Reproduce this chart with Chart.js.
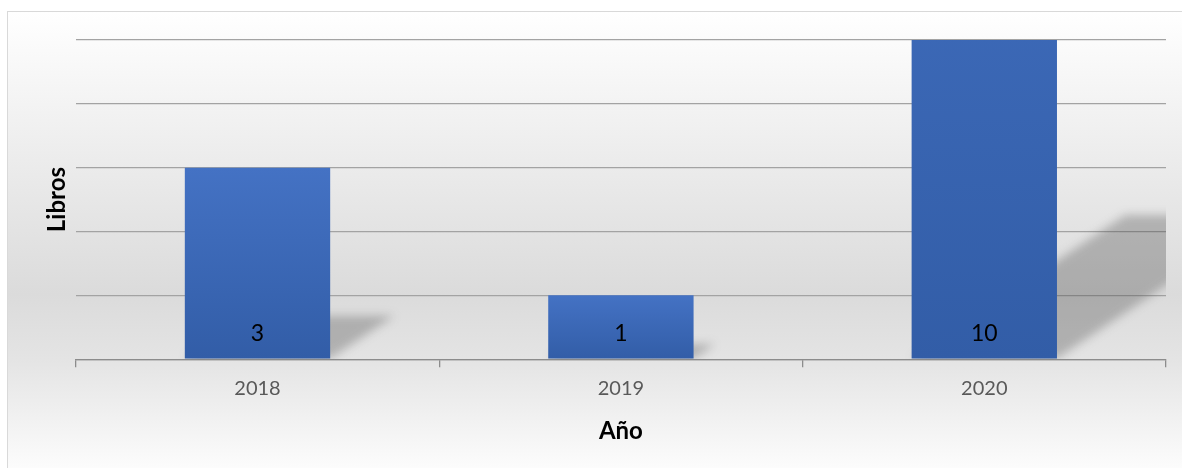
<!DOCTYPE html>
<html>
<head>
<meta charset="utf-8">
<script src="https://cdn.jsdelivr.net/npm/chart.js@4/dist/chart.umd.min.js"></script>
<style>
    html, body { margin: 0; padding: 0; background: #fff; overflow: hidden; }
    #frame {
        position: absolute; left: 7px; top: 11px; width: 1190px; height: 470px;
        border: 1.5px solid #d9d9d9;
        background: linear-gradient(to bottom, #ffffff 0%, #f4f4f4 18%, #dbdbdb 60%, #e4e4e4 74%, #ffffff 100%);
    }
    #wrap { position: absolute; left: 0; top: 0; width: 1182px; height: 468px; }
</style>
</head>
<body>
<div id="frame"></div>
<div id="wrap"><canvas id="bookChart"></canvas></div>
<script>
// chart data
const years = ['2018', '2019', '2020'];
const books = [3, 1, 10];
const yMax = 5;

document.addEventListener('DOMContentLoaded', function() {
    const ctx = document.getElementById('bookChart').getContext('2d');
    const font = 'Lato, "Liberation Sans", sans-serif';

    // gradient for each bar, from its top down to the baseline
    function barFill(context) {
        const chart = context.chart;
        const yScale = chart.scales.y;
        if (!chart.chartArea || !yScale) return '#3d69b8';
        const top = yScale.getPixelForValue(books[context.dataIndex]);
        const base = yScale.getPixelForValue(0);
        const g = chart.ctx.createLinearGradient(0, top, 0, base);
        g.addColorStop(0, '#4472c4');
        g.addColorStop(1, '#325da7');
        return g;
    }

    // perspective shadow behind the bars
    const barShadow = {
        id: 'barShadow',
        beforeDatasetsDraw(chart) {
            const c = chart.ctx;
            const area = chart.chartArea;
            c.save();
            c.beginPath();
            c.rect(area.left, area.top, area.right - area.left, area.bottom - area.top);
            c.clip();
            c.filter = 'blur(5px)';
            c.fillStyle = 'rgba(70,70,70,0.32)';
            chart.getDatasetMeta(0).data.forEach(function(bar) {
                const l = bar.x - bar.width / 2;
                const r = bar.x + bar.width / 2;
                const h = bar.base - bar.y;
                c.beginPath();
                c.moveTo(l, bar.base);
                c.lineTo(r, bar.base);
                c.lineTo(r + h * 0.335, bar.base - h * 0.225);
                c.lineTo(l + h * 0.335, bar.base - h * 0.225);
                c.closePath();
                c.fill();
            });
            c.restore();
        }
    };

    // value labels at the foot of each bar
    const barLabels = {
        id: 'barLabels',
        afterDatasetsDraw(chart) {
            const c = chart.ctx;
            c.save();
            c.font = '23px ' + font;
            c.fillStyle = '#000';
            c.textAlign = 'center';
            c.textBaseline = 'middle';
            chart.getDatasetMeta(0).data.forEach(function(bar, i) {
                c.fillText(String(books[i]), bar.x, bar.base - 25);
            });
            c.restore();
        }
    };

    new Chart(ctx, {
        type: 'bar',
        data: {
            labels: years,
            datasets: [{
                label: 'Libros',
                data: books,
                backgroundColor: barFill,
                borderWidth: 0,
                categoryPercentage: 1,
                barPercentage: 0.4
            }]
        },
        options: {
            responsive: true,
            maintainAspectRatio: false,
            animation: false,
            layout: { padding: { left: 43, right: 16, top: 40, bottom: 22 } },
            plugins: {
                legend: { display: false },
                tooltip: { enabled: false }
            },
            scales: {
                y: {
                    min: 0,
                    max: yMax,
                    ticks: { display: false, stepSize: 1 },
                    border: { display: false },
                    grid: { color: '#a3a3a3', lineWidth: 1.2, drawTicks: false, tickLength: 0 },
                    title: {
                        display: true,
                        text: 'Libros',
                        color: '#000',
                        font: { family: font, size: 24, weight: 'bold' },
                        padding: { top: 0, bottom: 4 }
                    }
                },
                x: {
                    border: { display: true, color: '#8c8c8c', width: 1.3 },
                    grid: { offset: true, drawOnChartArea: false, drawTicks: true, tickLength: 8, color: '#8c8c8c', lineWidth: 1.3 },
                    ticks: { color: '#595959', padding: 9, font: { family: font, size: 20 } },
                    title: {
                        display: true,
                        text: 'Año',
                        color: '#000',
                        font: { family: font, size: 24, weight: 'bold' },
                        padding: { top: 8, bottom: 0 }
                    }
                }
            }
        },
        plugins: [barShadow, barLabels]
    });
});
</script>
</body>
</html>
